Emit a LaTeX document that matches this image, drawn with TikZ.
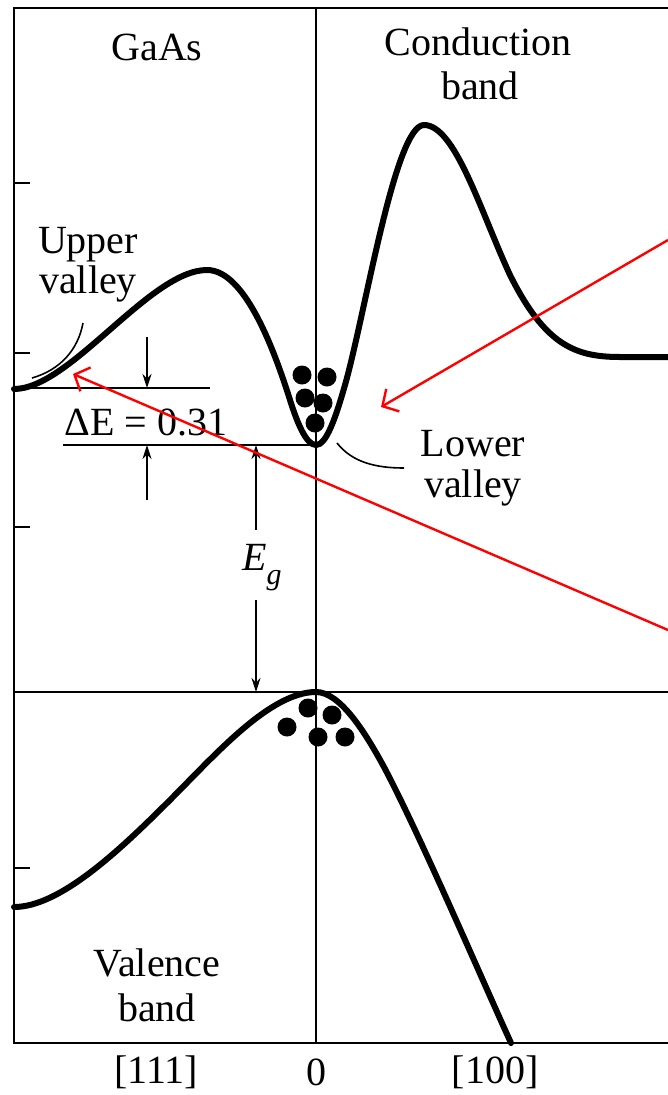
\documentclass[tikz,border=0pt]{standalone}
\usepackage{fontspec}
\setmainfont{Liberation Serif}
\usetikzlibrary{arrows.meta}
\begin{document}
\begin{tikzpicture}[x=1pt,y=-1pt,
  lbl/.style={font=\fontsize{40}{44}\selectfont, inner sep=0pt, align=center},
  frame/.style={line width=2.6pt},
  thin/.style={line width=1.8pt},
  band/.style={line width=6pt, line join=round, line cap=round},
  dim/.style={line width=2pt, -{Stealth[length=14pt,width=9pt]}},
  lead/.style={line width=1.6pt},
  redarrow/.style={draw=red, line width=2.4pt, -{Straight Barb[length=12pt,width=26pt,line width=2.4pt]}},
  electron/.style={fill=black}]
\useasboundingbox (0,0) rectangle (668,1095);
\fill[white] (0,0) rectangle (668,1095);
% frame
\draw[frame] (668,8) -- (14,8) -- (14,1043) -- (668,1043);
\draw[thin] (316,8) -- (316,1043);
\draw[thin] (14,692) -- (668,692);
% ticks
\foreach \t in {183,353,527,868} \draw[thin] (14,\t) -- (30,\t);
% conduction band
\draw[band] (14,389) .. controls (70,389) and (150,270) .. (207,270)
  .. controls (240,270) and (268,330) .. (290,400)
  .. controls (297,422) and (306,445) .. (316,445)
  .. controls (326,445) and (335,420) .. (345,385)
  .. controls (365,315) and (395,125) .. (424,125)
  .. controls (455,125) and (480,210) .. (510,275)
  .. controls (545,345) and (575,357) .. (620,357) -- (668,357);
% valence band
\draw[band] (14,907) .. controls (60,907) and (120,850) .. (170,800)
  .. controls (215,755) and (270,692) .. (316,692)
  .. controls (340,692) and (365,732) .. (384,767)
  .. controls (420,835) and (480,975) .. (511,1043);
% electrons
\foreach \p in {(302,375),(327,377),(305,398),(323,403),(315,423)} \fill[electron] \p circle (9.5pt);
\foreach \p in {(308,708),(332,715),(287,727),(318,737),(345,737)} \fill[electron] \p circle (9.5pt);
% level lines
\coordinate (uvl) at (14,388);
\coordinate (uvr) at (210,388);
\coordinate (lvl) at (63,445);
\coordinate (lvr) at (316,445);
\draw[thin] (uvl) -- (uvr);
\draw[thin] (lvl) -- (lvr);
% Delta E arrows
\coordinate (dea) at (147,337);
\coordinate (deb) at (147,388);
\coordinate (dec) at (147,500);
\coordinate (ded) at (147,445);
\draw[dim] (dea) -- (deb);
\draw[dim] (dec) -- (ded);
% Eg arrows
\coordinate (ega) at (256,530);
\coordinate (egb) at (256,445);
\coordinate (egc) at (256,600);
\coordinate (egd) at (256,692);
\draw[dim] (ega) -- (egb);
\draw[dim] (egc) -- (egd);
% labels
\node[lbl] (gaas) at (157,47) {GaAs};
\node[lbl] (cond) at (478,42) {Conduction};
\node[lbl] (condb) at (480,86) {band};
\node[lbl] (upper) at (88,245) {Upper};
\node[lbl] (uvalley) at (88,284) {valley};
\node[lbl] (de) at (146,422) {ΔE = 0.31};
\node[lbl] (lower) at (473,444) {Lower};
\node[lbl] (lvalley) at (473,488) {valley};
\node[lbl] (eg) at (262,568) {\itshape E\raisebox{-0.35em}{\fontsize{30}{30}\selectfont g}};
\node[lbl] (val) at (157,963) {Valence};
\node[lbl] (valb) at (157,1008) {band};
\node[lbl] (k111) at (156,1072) {[111]};
\node[lbl] (k0) at (316,1072) {0};
\node[lbl] (k100) at (495,1072) {[100]};
% leaders
\coordinate (ul1) at (32,378);
\coordinate (ul2) at (83,323);
\draw[lead] (ul1) .. controls (60,370) and (78,350) .. (ul2);
\coordinate (ll1) at (337,443);
\coordinate (ll2) at (404,468);
\draw[lead] (ll1) .. controls (352,462) and (375,468) .. (ll2);
% red arrows
\coordinate (r1s) at (668,240);
\coordinate (r1e) at (381,407);
\coordinate (r2s) at (668,630);
\coordinate (r2e) at (73,374);
\draw[redarrow] (r1s) -- (r1e);
\draw[redarrow] (r2s) -- (r2e);
\end{tikzpicture}
\end{document}
